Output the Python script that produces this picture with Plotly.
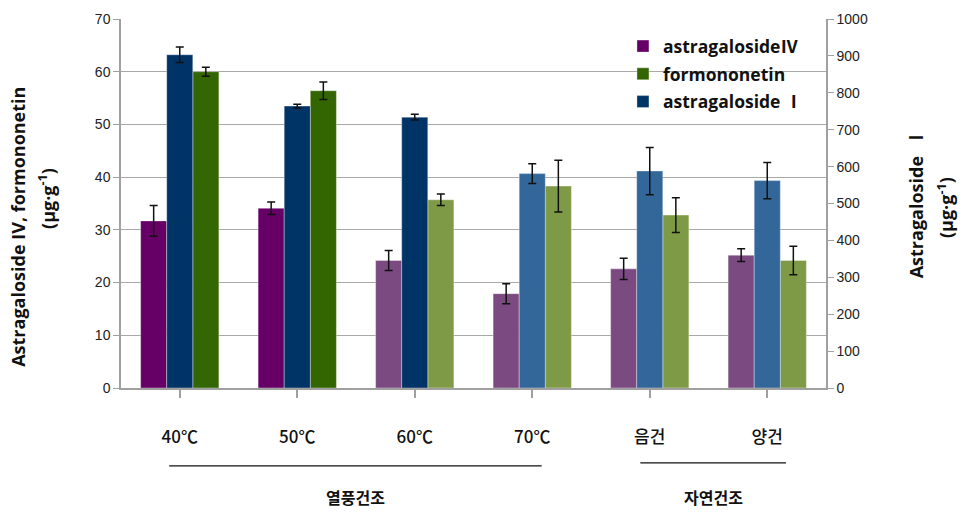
import plotly.graph_objects as go

# Drying conditions and measured contents
categories = ["40℃", "50℃", "60℃", "70℃", "음건", "양건"]

astragaloside_iv = [31.7, 34.1, 24.2, 17.9, 22.6, 25.2]
astragaloside_iv_err = [2.9, 1.2, 1.9, 1.9, 2.0, 1.2]

formononetin = [60.0, 56.4, 35.7, 38.3, 32.8, 24.2]
formononetin_err = [0.85, 1.65, 1.1, 4.9, 3.3, 2.7]

astragaloside_i = [903, 764, 734, 581, 588, 562]
astragaloside_i_err = [21, 5, 8, 27, 64, 49]

# Per-bar shades (darker where the treatment is significant)
iv_colors = ["#660066", "#660066", "#7b4a80", "#7b4a80", "#7b4a80", "#7b4a80"]
fo_colors = ["#336600", "#336600", "#7f9a46", "#7f9a46", "#7f9a46", "#7f9a46"]
ai_colors = ["#003366", "#003366", "#003366", "#336699", "#336699", "#336699"]

x_idx = list(range(len(categories)))
bar_w = 0.222

err_style = dict(type="data", visible=True, color="#111111", thickness=1.5, width=4)
edge = dict(color="rgba(255,255,255,0.35)", width=1)

# Roman numerals drawn with the CJK face
CJK_SPAN = "<span style=\"font-family:'Noto Sans CJK KR'\">{}</span>"

fig = go.Figure()

fig.add_trace(go.Bar(
    x=x_idx, y=astragaloside_iv, name="astragaloside" + CJK_SPAN.format("Ⅳ"),
    legendgroup="a",
    width=bar_w, offset=-1.5 * bar_w,
    marker=dict(color=iv_colors, line=edge),
    error_y=dict(array=astragaloside_iv_err, **err_style),
    yaxis="y",
))
fig.add_trace(go.Bar(
    x=x_idx, y=formononetin, name="formononetin", legendgroup="b",
    width=bar_w, offset=0.5 * bar_w,
    marker=dict(color=fo_colors, line=edge),
    error_y=dict(array=formononetin_err, **err_style),
    yaxis="y",
))
fig.add_trace(go.Bar(
    x=x_idx, y=astragaloside_i, name="astragaloside " + CJK_SPAN.format("Ⅰ"),
    legendgroup="c",
    width=bar_w, offset=-0.5 * bar_w,
    marker=dict(color=ai_colors, line=edge),
    error_y=dict(array=astragaloside_i_err, **err_style),
    yaxis="y2",
))

label_font = dict(family="Liberation Sans", size=14, color="#222222")
kr_font = "Noto Sans CJK KR"
title_font = dict(family="Open Sans", size=18, color="#111111", weight="bold")

fig.update_layout(
    width=967, height=515,
    margin=dict(l=121, r=141, t=19, b=127),
    paper_bgcolor="white", plot_bgcolor="white",
    barmode="overlay",
    showlegend=True,
    legend=dict(
        x=0.712, y=0.975, xanchor="left", yanchor="top",
        bgcolor="rgba(0,0,0,0)", tracegroupgap=2, itemwidth=30,
        font=dict(family="Open Sans", size=17.5, color="#111111", weight="bold"),
        traceorder="grouped",
    ),
    xaxis=dict(
        tickmode="array", tickvals=x_idx, ticktext=categories,
        range=[-0.5, len(categories) - 0.5],
        showgrid=False, showline=True, linecolor="#a0a0a0", linewidth=1.5,
        ticks="outside", ticklen=8, tickcolor="#a0a0a0", tickwidth=1.5,
        tickson="boundaries", ticklabelstandoff=25,
        tickfont=dict(family=kr_font, size=17, color="#111111", weight=500),
    ),
    yaxis=dict(
        range=[0, 70], dtick=10,
        showgrid=True, gridcolor="#a8a8a8", gridwidth=1.3,
        showline=True, linecolor="#a0a0a0", linewidth=1.5,
        ticks="outside", ticklen=6, tickcolor="#a0a0a0",
        tickfont=label_font, zeroline=False,
    ),
    yaxis2=dict(
        range=[0, 1000], dtick=100, overlaying="y", side="right",
        showgrid=False, showline=True, linecolor="#a0a0a0", linewidth=1.5,
        ticks="outside", ticklen=6, tickcolor="#a0a0a0",
        tickfont=label_font, zeroline=False,
    ),
)

# Axis titles, each line placed on its own so the spacing stays wide
axis_titles = [
    ("Astragaloside IV, formononetin", -0.146, 0.437),
    ("(μg·g<sup>-1</sup>)", -0.105, 0.515),
    ("Astragaloside  " + CJK_SPAN.format("Ⅰ"), 1.126, 0.50),
    ("(μg·g<sup>-1</sup>)", 1.170, 0.49),
]
for txt, xp, yp in axis_titles:
    fig.add_annotation(
        text=txt, xref="paper", yref="paper", x=xp, y=yp,
        xanchor="center", yanchor="middle", textangle=-90, showarrow=False,
        font=title_font,
    )

# Drying-method group brackets
groups = [
    ("열풍건조", -0.09, 3.08, -0.211),
    ("자연건조", 3.92, 5.16, -0.203),
]
for name, x0, x1, yl in groups:
    fig.add_shape(type="line", xref="x", yref="paper", x0=x0, x1=x1, y0=yl, y1=yl,
                  line=dict(color="#111111", width=1.2))
    fig.add_annotation(
        text=name, xref="x", yref="paper", x=(x0 + x1) / 2, y=-0.295,
        xanchor="center", yanchor="middle", showarrow=False,
        font=dict(family=kr_font, size=16, color="#111111", weight="bold"),
    )

fig.write_html("out.html")
